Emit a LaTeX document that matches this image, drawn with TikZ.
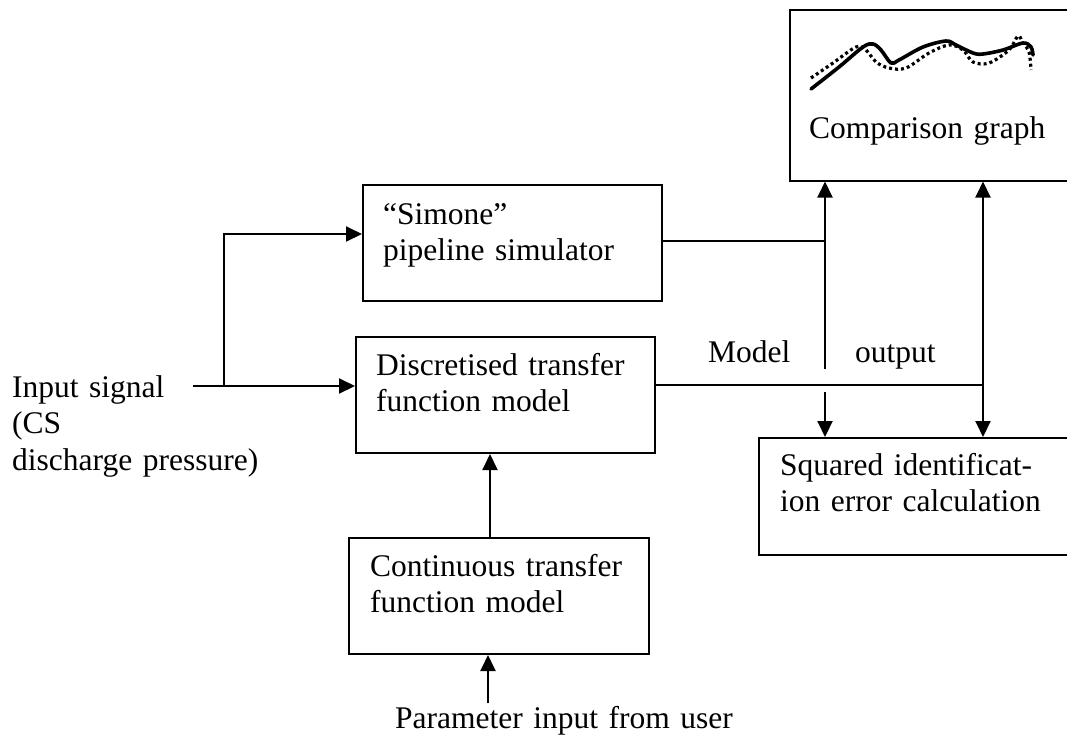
\documentclass[tikz,border=0pt]{standalone}
\usepackage{fontspec}
\setmainfont{Liberation Serif}
\usetikzlibrary{arrows.meta,calc}
\begin{document}
\begin{tikzpicture}[x=1pt,y=-1pt,
  blk/.style={draw, line width=2pt, rectangle, inner sep=0pt, anchor=north west},
  lbl/.style={inner sep=0pt, anchor=base west, align=left, text width=400pt,
              font=\fontsize{31.5}{36.5}\selectfont},
  wire/.style={line width=2pt},
  arr/.style={wire, -{Triangle[length=16pt,width=15pt]}},
  measured/.style={line width=3.6pt, line cap=round, line join=round},
  simulated/.style={line width=3.2pt, dash pattern=on 3pt off 3pt},
]
\clip (0,0) rectangle (1067,739);

% blocks
\node[blk, minimum width=283pt, minimum height=171pt] (cmp) at (789,8.5) {};
\node[blk, minimum width=299pt, minimum height=116pt] (sim) at (362,184) {};
\node[blk, minimum width=299pt, minimum height=116pt] (dtf) at (355,336) {};
\node[blk, minimum width=300pt, minimum height=116pt] (ctf) at (348,537) {};
\node[blk, minimum width=314pt, minimum height=117pt] (sqr) at (758,437) {};

% block texts
\node[lbl] (cmpt) at (809,138) {Comparison graph};
\node[lbl] (simt) at (383,224) {``Simone''\\pipeline simulator};
\node[lbl] (dtft) at (376,375) {Discretised transfer\\function model};
\node[lbl] (ctft) at (370,576) {Continuous transfer\\function model};
\node[lbl] (sqrt) at (780,475) {Squared identificat-\\ion error calculation};

% free texts
\node[lbl] (inpt) at (12,397) {Input signal\\(CS\\discharge pressure)};
\node[lbl, text width=100pt] (mdl) at (708,362) {Model};
\node[lbl, text width=100pt] (outp) at (855,362) {output};
\node[lbl] (part) at (395,728) {Parameter input from user};

% sketch of the two compared responses
\draw[measured] plot[smooth, tension=0.55] coordinates {
  (811,89) (839,67) (863,47) (873,44) (881,50) (891,63) (899,60) (923,47)
  (946,41) (956,45) (973,53) (983,54) (1003,50) (1023,43) (1031,47) (1033,55)};
\draw[simulated] plot[smooth, tension=0.55] coordinates {
  (811,78) (833,63) (856,47) (866,50) (876,62) (889,68) (906,68) (929,53)
  (949,45) (963,50) (973,62) (989,63) (1009,50) (1018,36) (1023,43)
  (1029,52) (1031,70)};

% input signal fork
\coordinate (in0) at (193,386);
\coordinate (fork) at (224,386);
\coordinate (up) at (224,234);
\draw[wire] (in0) -- (fork);
\draw[arr] (fork) -- (fork -| dtf.west);
\draw[arr] (fork) |- (sim.west |- up);

% simulator output
\coordinate (sj) at (825,241);
\coordinate (gapT) at (825,369);
\coordinate (gapB) at (825,392);
\draw[arr] (sim.east |- sj) -- (sj) -- (sj |- cmp.south);
\draw[wire] (sj) -- (gapT);
\draw[arr] (gapB) -- (gapB |- sqr.north);

% model output
\coordinate (mj) at (983,385);
\draw[wire] (dtf.east |- mj) -- (mj);
\draw[arr] (mj) -- (mj |- cmp.south);
\draw[arr] (mj) -- (mj |- sqr.north);

% continuous -> discretised, parameters -> continuous
\coordinate (cx) at (490,0);
\draw[arr] (ctf.north -| cx) -- (dtf.south -| cx);
\coordinate (pin) at (488,703);
\draw[arr] (pin) -- (pin |- ctf.south);
\end{tikzpicture}
\end{document}
